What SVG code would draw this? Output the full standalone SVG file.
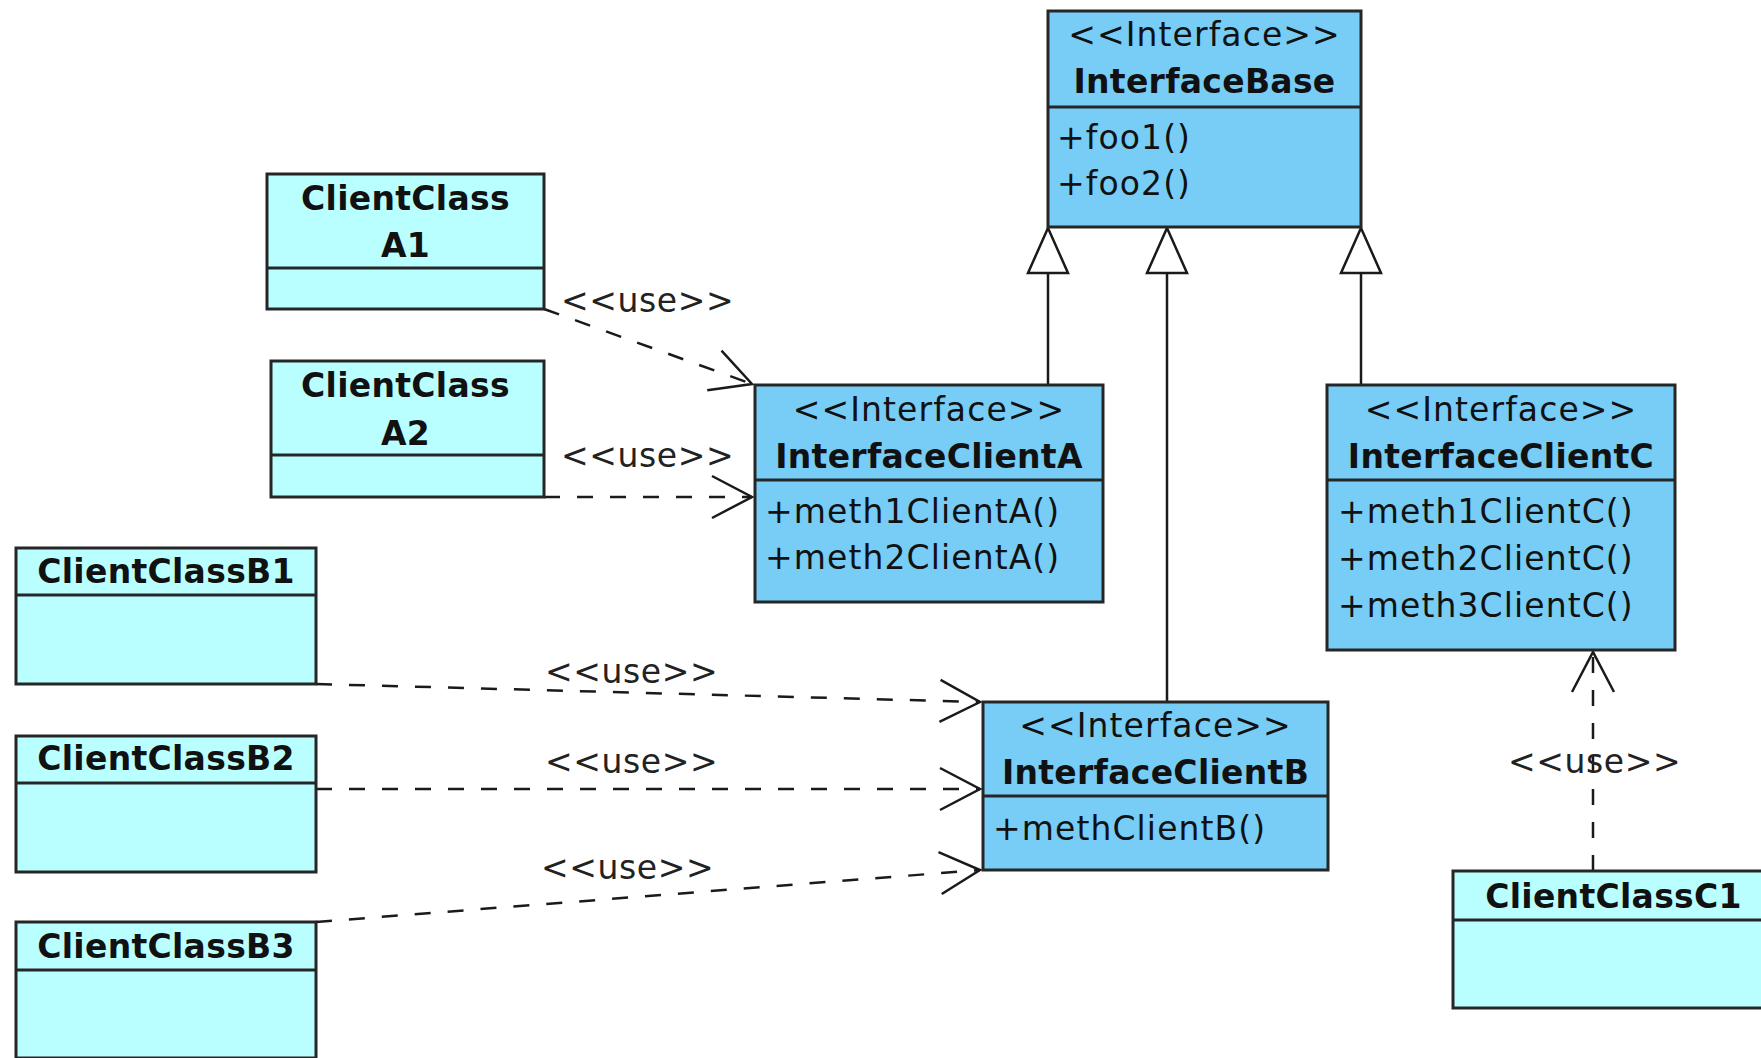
<svg xmlns="http://www.w3.org/2000/svg" width="1761" height="1058" viewBox="0 0 1761 1058">
<style>
.iface{fill:#77CDF6;stroke:#262626;stroke-width:3}
.client{fill:#BAFFFF;stroke:#262626;stroke-width:3}
.div{stroke:#262626;stroke-width:3;fill:none}
.st{font-family:"DejaVu Sans",sans-serif;font-size:33px;letter-spacing:1.1px;fill:#111;text-anchor:middle}
.nm{font-family:"DejaVu Sans",sans-serif;font-size:33px;font-weight:bold;letter-spacing:0.3px;fill:#111;text-anchor:middle}
.op{font-family:"DejaVu Sans",sans-serif;font-size:33px;letter-spacing:1.1px;fill:#111}
.lbl{font-family:"DejaVu Sans",sans-serif;font-size:33px;letter-spacing:0.6px;fill:#222}
.dep{stroke:#1a1a1a;stroke-width:2.5;fill:none;stroke-dasharray:16 17;marker-end:url(#open)}
.gen{stroke:#1a1a1a;stroke-width:2.5;fill:none}
.tri{fill:#fff;stroke:#1a1a1a;stroke-width:2.5;stroke-linejoin:miter}
</style>
<defs>
<marker id="open" markerUnits="userSpaceOnUse" markerWidth="60" markerHeight="60" viewBox="-50 -30 60 60" refX="0" refY="0" orient="auto" overflow="visible">
<path d="M-40,-21 L0,0 L-40,21" fill="none" stroke="#1a1a1a" stroke-width="2.5" stroke-dasharray="none"/>
</marker>
</defs>
<rect width="1761" height="1058" fill="#fff"/>

<g id="connectors">
<line class="gen" x1="1048" y1="273" x2="1048" y2="385"/>
<line class="gen" x1="1167" y1="273" x2="1167" y2="702"/>
<line class="gen" x1="1361" y1="273" x2="1361" y2="385"/>
<polygon class="tri" points="1048,228 1028,273 1068,273"/>
<polygon class="tri" points="1167,228 1147,273 1187,273"/>
<polygon class="tri" points="1361,228 1341,273 1381,273"/>
<path class="dep" d="M544,309 L752,384"/>
<path class="dep" d="M544,497 L752,497"/>
<path class="dep" d="M316,684 L980,702"/>
<path class="dep" d="M316,789 L980,789"/>
<path class="dep" d="M316,922 L980,870"/>
<path class="dep" d="M1593,871 L1593,652"/>
<text class="lbl" x="561" y="312">&lt;&lt;use&gt;&gt;</text>
<text class="lbl" x="561" y="467">&lt;&lt;use&gt;&gt;</text>
<text class="lbl" x="545" y="683">&lt;&lt;use&gt;&gt;</text>
<text class="lbl" x="545" y="773">&lt;&lt;use&gt;&gt;</text>
<text class="lbl" x="541" y="879">&lt;&lt;use&gt;&gt;</text>
<text class="lbl" x="1508" y="773">&lt;&lt;use&gt;&gt;</text>
</g>

<g id="InterfaceBase">
<rect class="iface" x="1048" y="11" width="313" height="216"/>
<line class="div" x1="1048" y1="107" x2="1361" y2="107"/>
<text class="st" x="1204.5" y="46">&lt;&lt;Interface&gt;&gt;</text>
<text class="nm" x="1204.5" y="93">InterfaceBase</text>
<text class="op" x="1057" y="149">+foo1()</text>
<text class="op" x="1057" y="195">+foo2()</text>
</g>

<g id="InterfaceClientA">
<rect class="iface" x="755" y="385" width="348" height="217"/>
<line class="div" x1="755" y1="480" x2="1103" y2="480"/>
<text class="st" x="929" y="421">&lt;&lt;Interface&gt;&gt;</text>
<text class="nm" x="929" y="468">InterfaceClientA</text>
<text class="op" x="765" y="523">+meth1ClientA()</text>
<text class="op" x="765" y="569">+meth2ClientA()</text>
</g>

<g id="InterfaceClientC">
<rect class="iface" x="1327" y="385" width="348" height="265"/>
<line class="div" x1="1327" y1="480" x2="1675" y2="480"/>
<text class="st" x="1501" y="421">&lt;&lt;Interface&gt;&gt;</text>
<text class="nm" x="1501" y="468">InterfaceClientC</text>
<text class="op" x="1338" y="523">+meth1ClientC()</text>
<text class="op" x="1338" y="570">+meth2ClientC()</text>
<text class="op" x="1338" y="617">+meth3ClientC()</text>
</g>

<g id="InterfaceClientB">
<rect class="iface" x="983" y="702" width="345" height="168"/>
<line class="div" x1="983" y1="796" x2="1328" y2="796"/>
<text class="st" x="1155.5" y="737">&lt;&lt;Interface&gt;&gt;</text>
<text class="nm" x="1155.5" y="784">InterfaceClientB</text>
<text class="op" x="993" y="840">+methClientB()</text>
</g>

<g id="ClientClassA1">
<rect class="client" x="267" y="174" width="277" height="135"/>
<line class="div" x1="267" y1="268" x2="544" y2="268"/>
<text class="nm" x="405.5" y="210">ClientClass</text>
<text class="nm" x="405.5" y="257">A1</text>
</g>

<g id="ClientClassA2">
<rect class="client" x="271" y="361" width="273" height="136"/>
<line class="div" x1="271" y1="455" x2="544" y2="455"/>
<text class="nm" x="405.5" y="397">ClientClass</text>
<text class="nm" x="405.5" y="445">A2</text>
</g>

<g id="ClientClassB1">
<rect class="client" x="16" y="548" width="300" height="136"/>
<line class="div" x1="16" y1="595" x2="316" y2="595"/>
<text class="nm" x="166" y="583">ClientClassB1</text>
</g>

<g id="ClientClassB2">
<rect class="client" x="16" y="736" width="300" height="136"/>
<line class="div" x1="16" y1="783" x2="316" y2="783"/>
<text class="nm" x="166" y="770">ClientClassB2</text>
</g>

<g id="ClientClassB3">
<rect class="client" x="16" y="922" width="300" height="136"/>
<line class="div" x1="16" y1="970" x2="316" y2="970"/>
<text class="nm" x="166" y="958">ClientClassB3</text>
</g>

<g id="ClientClassC1">
<rect class="client" x="1453" y="871" width="320" height="137"/>
<line class="div" x1="1453" y1="920" x2="1773" y2="920"/>
<text class="nm" x="1613.5" y="908">ClientClassC1</text>
</g>
</svg>
